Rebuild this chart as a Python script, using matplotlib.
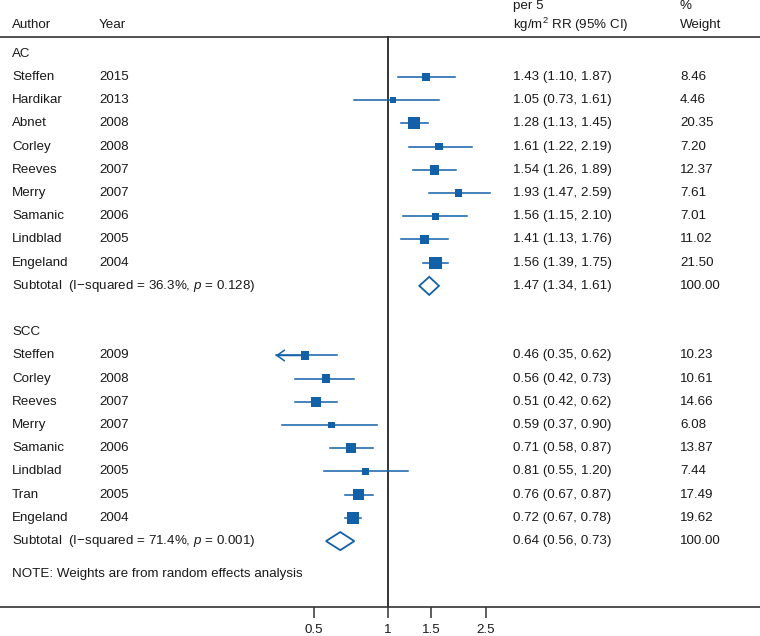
import numpy as np
import matplotlib.pyplot as plt
from matplotlib.transforms import blended_transform_factory

plt.rcParams["font.family"] = ["Liberation Sans", "DejaVu Sans"]
plt.rcParams["mathtext.fontset"] = "custom"
plt.rcParams["mathtext.rm"] = "Liberation Sans"
plt.rcParams["mathtext.it"] = "Liberation Sans:italic"

# --- Data ---
ac_author = ["Steffen", "Hardikar", "Abnet", "Corley", "Reeves", "Merry",
             "Samanic", "Lindblad", "Engeland"]
ac_year = [2015, 2013, 2008, 2008, 2007, 2007, 2006, 2005, 2004]
ac_rr = [1.43, 1.05, 1.28, 1.61, 1.54, 1.93, 1.56, 1.41, 1.56]
ac_lo = [1.10, 0.73, 1.13, 1.22, 1.26, 1.47, 1.15, 1.13, 1.39]
ac_hi = [1.87, 1.61, 1.45, 2.19, 1.89, 2.59, 2.10, 1.76, 1.75]
ac_weight = [8.46, 4.46, 20.35, 7.20, 12.37, 7.61, 7.01, 11.02, 21.50]
ac_sub = (1.47, 1.34, 1.61)
ac_i2, ac_p = 36.3, 0.128

scc_author = ["Steffen", "Corley", "Reeves", "Merry", "Samanic", "Lindblad",
              "Tran", "Engeland"]
scc_year = [2009, 2008, 2007, 2007, 2006, 2005, 2005, 2004]
scc_rr = [0.46, 0.56, 0.51, 0.59, 0.71, 0.81, 0.76, 0.72]
scc_lo = [0.35, 0.42, 0.42, 0.37, 0.58, 0.55, 0.67, 0.67]
scc_hi = [0.62, 0.73, 0.62, 0.90, 0.87, 1.20, 0.87, 0.78]
scc_weight = [10.23, 10.61, 14.66, 6.08, 13.87, 7.44, 17.49, 19.62]
scc_sub = (0.64, 0.56, 0.73)
scc_i2, scc_p = 71.4, 0.001

xticks = [0.5, 1, 1.5, 2.5]
xtick_labels = ["0.5", "1", "1.5", "2.5"]

# --- Style ---
blue = "#1261a8"
dark = "#333333"
txt = "#1a1a1a"
fs = 9.6
clip_lo = 0.35  # lower CI beyond axis range -> arrow

fig = plt.figure(figsize=(7.6, 6.36), dpi=100)
ax = fig.add_axes([0, 29 / 636, 1, 607 / 636])
ax.set_xscale("log")
ax.set_xlim(np.exp(-388 / 107), np.exp(372 / 107))
ax.set_ylim(23.84, -2.32)
for s in ["top", "left", "right"]:
    ax.spines[s].set_visible(False)
ax.spines["bottom"].set_color(dark)
ax.spines["bottom"].set_linewidth(1.2)
ax.set_yticks([])
ax.set_xticks(xticks)
ax.set_xticklabels(xtick_labels)
ax.minorticks_off()
ax.tick_params(axis="x", direction="out", length=8, width=1.1, color=dark,
               labelsize=fs, labelcolor=txt, pad=4)

tr = blended_transform_factory(ax.transAxes, ax.transData)
col_author, col_year, col_est, col_w = 12 / 760, 99 / 760, 513 / 760, 680 / 760


def put(x, y, s, **kw):
    ax.text(x, y, s, transform=tr, fontsize=fs, color=txt, va="center",
            ha="left", clip_on=False, **kw)


# header
put(col_author, -1.24, "Author")
put(col_year, -1.24, "Year")
put(col_est, -2.05, "per 5")
put(col_est, -1.24, "kg/m$^{2}$ RR (95% CI)")
put(col_w, -2.05, "%")
put(col_w, -1.24, "Weight")
ax.axhline(-0.72, color=dark, lw=1.2)
ax.plot([1, 1], [-0.72, 23.84], color=dark, lw=1.4, zorder=1)


def group(start, name, author, year, rr, lo, hi, w, sub, i2, p):
    put(col_author, start, name)
    ys = start + 1 + np.arange(len(author))
    for y, a, yr, r, l, h, wt in zip(ys, author, year, rr, lo, hi, w):
        put(col_author, y, a)
        put(col_year, y, str(yr))
        put(col_est, y, f"{r:.2f} ({l:.2f}, {h:.2f})")
        put(col_w, y, f"{wt:.2f}")
        ax.plot([l, h], [y, y], color=blue, lw=1.1, zorder=2)
        if l <= clip_lo:
            ax.annotate("", xy=(l, y), xytext=(r, y),
                        arrowprops=dict(arrowstyle="->,head_length=0.45,head_width=0.32",
                                        color=blue, lw=1.1, mutation_scale=12,
                                        shrinkA=0, shrinkB=0))
    ax.scatter(rr, ys, s=np.array(w) * 3.64, marker="s", color=blue,
               linewidths=0, zorder=3)
    ysub = ys[-1] + 1
    put(col_author, ysub, f"Subtotal  (I\u2212squared = {i2:.1f}%, $p$ = {p:.3f})")
    put(col_est, ysub, f"{sub[0]:.2f} ({sub[1]:.2f}, {sub[2]:.2f})")
    put(col_w, ysub, "100.00")
    hh = 0.39
    ax.fill([sub[1], sub[0], sub[2], sub[0]], [ysub, ysub - hh, ysub, ysub + hh],
            facecolor="white", edgecolor=blue, lw=1.3, zorder=3)
    return ysub


end_ac = group(0, "AC", ac_author, ac_year, ac_rr, ac_lo, ac_hi, ac_weight,
               ac_sub, ac_i2, ac_p)
end_scc = group(end_ac + 2, "SCC", scc_author, scc_year, scc_rr, scc_lo, scc_hi,
                scc_weight, scc_sub, scc_i2, scc_p)
put(col_author, end_scc + 1.4, "NOTE: Weights are from random effects analysis")

fig.savefig("out.png", dpi=100, facecolor="white")
